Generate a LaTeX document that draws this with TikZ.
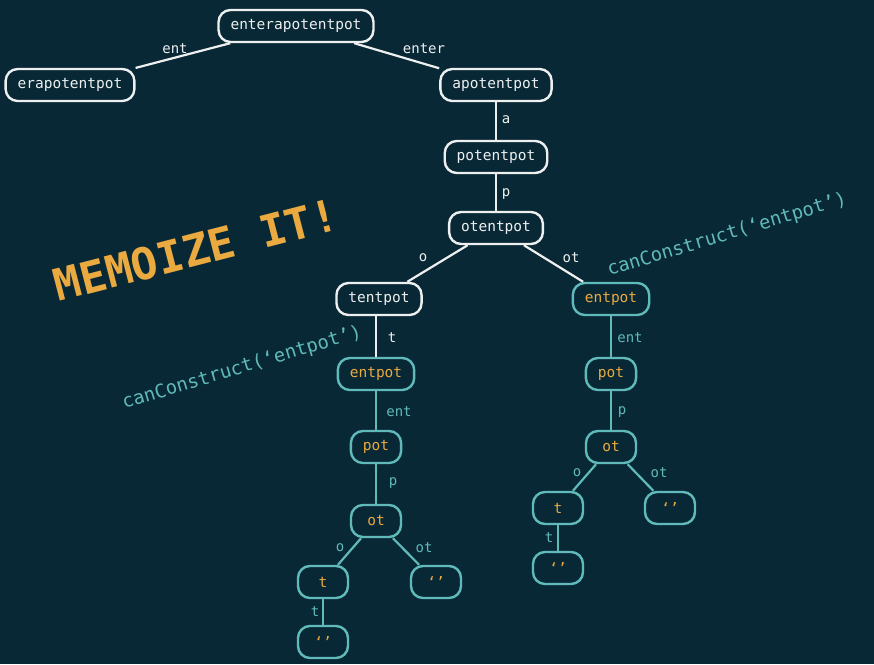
\documentclass[tikz,border=0pt]{standalone}
\usepackage{fontspec}
\setmonofont{DejaVu Sans Mono}
\definecolor{bg}{RGB}{8,40,54}
\definecolor{wht}{RGB}{238,240,240}
\definecolor{teal}{RGB}{96,186,186}
\definecolor{orng}{RGB}{234,170,64}
\tikzset{
  nd/.style={draw=wht, line width=2.4pt, rounded corners=12pt, text=wht,
    font=\ttfamily\fontsize{14.5}{16}\selectfont, inner xsep=12pt,
    minimum width=50pt, minimum height=32pt},
  tnd/.style={nd, draw=teal, text=orng},
  ed/.style={draw=wht, line width=2.2pt},
  ted/.style={draw=teal, line width=2.2pt},
  lbl/.style={text=wht, font=\ttfamily\fontsize{14}{16}\selectfont},
  tlbl/.style={lbl, text=teal},
  cc/.style={text=teal, font=\ttfamily\fontsize{18.8}{21}\selectfont, rotate=16.8, inner sep=0pt}
}
\begin{document}
\begin{tikzpicture}[x=1pt,y=-1pt]
\fill[bg] (0,0) rectangle (874,664);
\useasboundingbox (0,0) rectangle (874,664);
% white nodes
\node[nd] (root) at (296,26) {enterapotentpot};
\node[nd] (era) at (70,85) {erapotentpot};
\node[nd] (apo) at (496,85) {apotentpot};
\node[nd] (pot1) at (496,157) {potentpot};
\node[nd] (ote) at (496,228) {otentpot};
\node[nd] (ten) at (379,299) {tentpot};
% teal nodes right
\node[tnd] (entR) at (611,299) {entpot};
\node[tnd] (potR) at (611,374) {pot};
\node[tnd] (otR) at (611,447) {ot};
\node[tnd] (tR) at (558,508) {t};
\node[tnd] (eR1) at (670,508) {‘’};
\node[tnd] (eR2) at (558,568) {‘’};
% teal nodes left
\node[tnd] (entL) at (376,374) {entpot};
\node[tnd] (potL) at (376,447) {pot};
\node[tnd] (otL) at (376,521) {ot};
\node[tnd] (tL) at (323,582) {t};
\node[tnd] (eL1) at (436,582) {‘’};
\node[tnd] (eL2) at (323,642) {‘’};
% white edges
\draw[ed] (root) -- (era);
\draw[ed] (root) -- (apo);
\draw[ed] (apo) -- (pot1);
\draw[ed] (pot1) -- (ote);
\draw[ed] (ote) -- (ten);
\draw[ed] (ote) -- (entR);
\draw[ed] (ten.south -| entL.north) -- (entL);
% teal edges
\draw[ted] (entR) -- (potR);
\draw[ted] (potR) -- (otR);
\draw[ted] (otR) -- (tR);
\draw[ted] (otR) -- (eR1);
\draw[ted] (tR) -- (eR2);
\draw[ted] (entL) -- (potL);
\draw[ted] (potL) -- (otL);
\draw[ted] (otL) -- (tL);
\draw[ted] (otL) -- (eL1);
\draw[ted] (tL) -- (eL2);
% labels
\node[lbl] at (175,49) {ent};
\node[lbl] at (424,49) {enter};
\node[lbl] at (506,120) {a};
\node[lbl] at (506,194) {p};
\node[lbl] at (423,258) {o};
\node[lbl] at (571,258) {ot};
\node[lbl] at (392,338) {t};
\node[tlbl] at (630,338) {ent};
\node[tlbl] at (622,412) {p};
\node[tlbl] at (577,473) {o};
\node[tlbl] at (659,473) {ot};
\node[tlbl] at (549,538) {t};
\node[tlbl] at (399,412) {ent};
\node[tlbl] at (393,483) {p};
\node[tlbl] at (340,548) {o};
\node[tlbl] at (424,548) {ot};
\node[tlbl] at (315,612) {t};
% annotations
\node[text=orng, font=\ttfamily\bfseries\fontsize{44}{48}\selectfont, rotate=14.5, inner sep=0pt] at (196,250) {MEMOIZE IT!};
\node[cc] at (242,368) {canConstruct(‘entpot’)};
\node[cc] at (727,235) {canConstruct(‘entpot’)};
\end{tikzpicture}
\end{document}
